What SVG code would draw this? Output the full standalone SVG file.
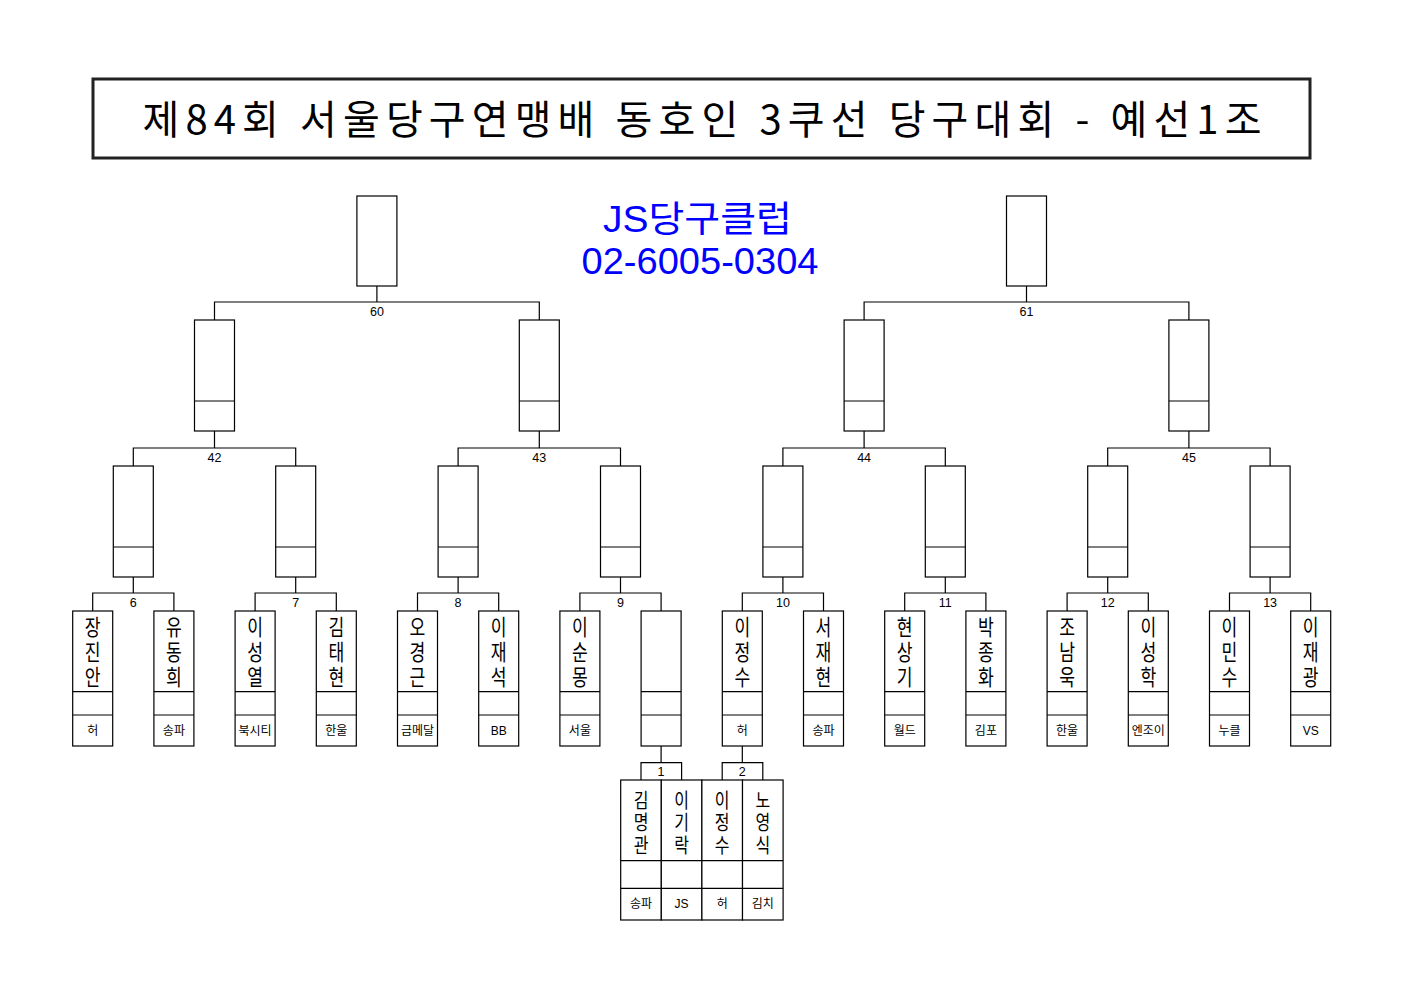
<svg xmlns="http://www.w3.org/2000/svg" width="1403" height="992" viewBox="0 0 1403 992">
<style>
.box{fill:#fff;stroke:#000;stroke-width:1.2}
.dv{fill:none;stroke:#000;stroke-width:1.2}
.ln{fill:none;stroke:#000;stroke-width:1.2}
.num{font-family:"Liberation Sans",sans-serif;font-size:12.5px;text-anchor:middle;fill:#000}
.nm{font-family:"Liberation Sans","Noto Sans CJK KR",sans-serif;font-size:22px;text-anchor:middle;fill:#000}
.nmb{font-family:"Liberation Sans","Noto Sans CJK KR",sans-serif;font-size:20px;text-anchor:middle;fill:#000}
.af{font-family:"Liberation Sans","Noto Sans CJK KR",sans-serif;font-size:12px;text-anchor:middle;fill:#000}
.title{font-family:"Noto Sans CJK KR",sans-serif;font-size:40px;text-anchor:middle;fill:#000}
.blue{font-family:"Liberation Sans","Noto Sans CJK KR",sans-serif;text-anchor:middle;fill:#0000ff}
</style>
<rect width="1403" height="992" fill="#fff"/>
<g id="title">
<rect x="93" y="79" width="1217" height="79" fill="#fff" stroke="#222" stroke-width="3"/>
<text class="title" x="702" y="134" textLength="1119" lengthAdjust="spacing">제84회 서울당구연맹배 동호인 3쿠선 당구대회 - 예선1조</text>
</g>
<g id="club">
<text class="blue" x="697.5" y="231.5" font-size="36" textLength="189" lengthAdjust="spacingAndGlyphs">JS당구클럽</text>
<text class="blue" x="700" y="273.5" font-size="37.5" textLength="237" lengthAdjust="spacingAndGlyphs">02-6005-0304</text>
</g>
<g id="connectors">
<path class="ln" d="M133.3 577V593M92.7 611V593H173.9V611"/>
<path class="ln" d="M295.7 577V593M255.1 611V593H336.3V611"/>
<path class="ln" d="M458.1 577V593M417.5 611V593H498.7V611"/>
<path class="ln" d="M620.5 577V593M579.9 611V593H661.1V611"/>
<path class="ln" d="M782.9 577V593M742.3 611V593H823.5V611"/>
<path class="ln" d="M945.3 577V593M904.7 611V593H985.9V611"/>
<path class="ln" d="M1107.7 577V593M1067.1 611V593H1148.3V611"/>
<path class="ln" d="M1270.1 577V593M1229.5 611V593H1310.7V611"/>
<path class="ln" d="M214.5 431V448M133.3 466V448H295.7V466"/>
<path class="ln" d="M539.3 431V448M458.1 466V448H620.5V466"/>
<path class="ln" d="M864.1 431V448M782.9 466V448H945.3V466"/>
<path class="ln" d="M1188.9 431V448M1107.7 466V448H1270.1V466"/>
<path class="ln" d="M376.9 286V302M214.5 320V302H539.3V320"/>
<path class="ln" d="M1026.5 286V302M864.1 320V302H1188.9V320"/>
<path class="ln" d="M661.1 746V762.7M641 780V762.7H681.6V780"/>
<path class="ln" d="M742.3 746V762.7M722.2 780V762.7H762.8V780"/>
</g>
<g id="labels">
<text class="num" x="376.9" y="315.5">60</text>
<text class="num" x="1026.5" y="315.5">61</text>
<text class="num" x="214.5" y="461.5">42</text>
<text class="num" x="539.3" y="461.5">43</text>
<text class="num" x="864.1" y="461.5">44</text>
<text class="num" x="1188.9" y="461.5">45</text>
<text class="num" x="133.3" y="606.5">6</text>
<text class="num" x="295.7" y="606.5">7</text>
<text class="num" x="458.1" y="606.5">8</text>
<text class="num" x="620.5" y="606.5">9</text>
<text class="num" x="782.9" y="606.5">10</text>
<text class="num" x="945.3" y="606.5">11</text>
<text class="num" x="1107.7" y="606.5">12</text>
<text class="num" x="1270.1" y="606.5">13</text>
<text class="num" x="661.1" y="776">1</text>
<text class="num" x="742.3" y="776">2</text>
</g>
<g id="m60"><rect class="box" x="356.9" y="196" width="40" height="90"/></g>
<g id="m61"><rect class="box" x="1006.5" y="196" width="40" height="90"/></g>
<g id="m42"><rect class="box" x="194.5" y="320" width="40" height="111"/><path class="dv" d="M194.5 401h40"/></g>
<g id="m43"><rect class="box" x="519.3" y="320" width="40" height="111"/><path class="dv" d="M519.3 401h40"/></g>
<g id="m44"><rect class="box" x="844.1" y="320" width="40" height="111"/><path class="dv" d="M844.1 401h40"/></g>
<g id="m45"><rect class="box" x="1168.9" y="320" width="40" height="111"/><path class="dv" d="M1168.9 401h40"/></g>
<g id="m6"><rect class="box" x="113.3" y="466" width="40" height="111"/><path class="dv" d="M113.3 547h40"/></g>
<g id="m7"><rect class="box" x="275.7" y="466" width="40" height="111"/><path class="dv" d="M275.7 547h40"/></g>
<g id="m8"><rect class="box" x="438.1" y="466" width="40" height="111"/><path class="dv" d="M438.1 547h40"/></g>
<g id="m9"><rect class="box" x="600.5" y="466" width="40" height="111"/><path class="dv" d="M600.5 547h40"/></g>
<g id="m10"><rect class="box" x="762.9" y="466" width="40" height="111"/><path class="dv" d="M762.9 547h40"/></g>
<g id="m11"><rect class="box" x="925.3" y="466" width="40" height="111"/><path class="dv" d="M925.3 547h40"/></g>
<g id="m12"><rect class="box" x="1087.7" y="466" width="40" height="111"/><path class="dv" d="M1087.7 547h40"/></g>
<g id="m13"><rect class="box" x="1250.1" y="466" width="40" height="111"/><path class="dv" d="M1250.1 547h40"/></g>
<g id="p0"><rect class="box" x="72.7" y="611" width="40" height="135"/><path class="dv" d="M72.7 691.7h40M72.7 715h40"/><text class="nm" transform="translate(92.7 0) scale(0.78 1)" x="0" y="635.5">장<tspan x="0" dy="25">진</tspan><tspan x="0" dy="25">안</tspan></text><text class="af" x="92.7" y="734.5">허</text></g>
<g id="p1"><rect class="box" x="153.9" y="611" width="40" height="135"/><path class="dv" d="M153.9 691.7h40M153.9 715h40"/><text class="nm" transform="translate(173.9 0) scale(0.78 1)" x="0" y="635.5">유<tspan x="0" dy="25">동</tspan><tspan x="0" dy="25">희</tspan></text><text class="af" x="173.9" y="734.5">송파</text></g>
<g id="p2"><rect class="box" x="235.1" y="611" width="40" height="135"/><path class="dv" d="M235.1 691.7h40M235.1 715h40"/><text class="nm" transform="translate(255.1 0) scale(0.78 1)" x="0" y="635.5">이<tspan x="0" dy="25">성</tspan><tspan x="0" dy="25">열</tspan></text><text class="af" x="255.1" y="734.5">북시티</text></g>
<g id="p3"><rect class="box" x="316.3" y="611" width="40" height="135"/><path class="dv" d="M316.3 691.7h40M316.3 715h40"/><text class="nm" transform="translate(336.3 0) scale(0.78 1)" x="0" y="635.5">김<tspan x="0" dy="25">태</tspan><tspan x="0" dy="25">현</tspan></text><text class="af" x="336.3" y="734.5">한울</text></g>
<g id="p4"><rect class="box" x="397.5" y="611" width="40" height="135"/><path class="dv" d="M397.5 691.7h40M397.5 715h40"/><text class="nm" transform="translate(417.5 0) scale(0.78 1)" x="0" y="635.5">오<tspan x="0" dy="25">경</tspan><tspan x="0" dy="25">근</tspan></text><text class="af" x="417.5" y="734.5">금메달</text></g>
<g id="p5"><rect class="box" x="478.7" y="611" width="40" height="135"/><path class="dv" d="M478.7 691.7h40M478.7 715h40"/><text class="nm" transform="translate(498.7 0) scale(0.78 1)" x="0" y="635.5">이<tspan x="0" dy="25">재</tspan><tspan x="0" dy="25">석</tspan></text><text class="af" x="498.7" y="734.5">BB</text></g>
<g id="p6"><rect class="box" x="559.9" y="611" width="40" height="135"/><path class="dv" d="M559.9 691.7h40M559.9 715h40"/><text class="nm" transform="translate(579.9 0) scale(0.78 1)" x="0" y="635.5">이<tspan x="0" dy="25">순</tspan><tspan x="0" dy="25">몽</tspan></text><text class="af" x="579.9" y="734.5">서울</text></g>
<g id="p7"><rect class="box" x="641.1" y="611" width="40" height="135"/><path class="dv" d="M641.1 691.7h40M641.1 715h40"/></g>
<g id="p8"><rect class="box" x="722.3" y="611" width="40" height="135"/><path class="dv" d="M722.3 691.7h40M722.3 715h40"/><text class="nm" transform="translate(742.3 0) scale(0.78 1)" x="0" y="635.5">이<tspan x="0" dy="25">정</tspan><tspan x="0" dy="25">수</tspan></text><text class="af" x="742.3" y="734.5">허</text></g>
<g id="p9"><rect class="box" x="803.5" y="611" width="40" height="135"/><path class="dv" d="M803.5 691.7h40M803.5 715h40"/><text class="nm" transform="translate(823.5 0) scale(0.78 1)" x="0" y="635.5">서<tspan x="0" dy="25">재</tspan><tspan x="0" dy="25">현</tspan></text><text class="af" x="823.5" y="734.5">송파</text></g>
<g id="p10"><rect class="box" x="884.7" y="611" width="40" height="135"/><path class="dv" d="M884.7 691.7h40M884.7 715h40"/><text class="nm" transform="translate(904.7 0) scale(0.78 1)" x="0" y="635.5">현<tspan x="0" dy="25">상</tspan><tspan x="0" dy="25">기</tspan></text><text class="af" x="904.7" y="734.5">월드</text></g>
<g id="p11"><rect class="box" x="965.9" y="611" width="40" height="135"/><path class="dv" d="M965.9 691.7h40M965.9 715h40"/><text class="nm" transform="translate(985.9 0) scale(0.78 1)" x="0" y="635.5">박<tspan x="0" dy="25">종</tspan><tspan x="0" dy="25">화</tspan></text><text class="af" x="985.9" y="734.5">김포</text></g>
<g id="p12"><rect class="box" x="1047.1" y="611" width="40" height="135"/><path class="dv" d="M1047.1 691.7h40M1047.1 715h40"/><text class="nm" transform="translate(1067.1 0) scale(0.78 1)" x="0" y="635.5">조<tspan x="0" dy="25">남</tspan><tspan x="0" dy="25">욱</tspan></text><text class="af" x="1067.1" y="734.5">한울</text></g>
<g id="p13"><rect class="box" x="1128.3" y="611" width="40" height="135"/><path class="dv" d="M1128.3 691.7h40M1128.3 715h40"/><text class="nm" transform="translate(1148.3 0) scale(0.78 1)" x="0" y="635.5">이<tspan x="0" dy="25">성</tspan><tspan x="0" dy="25">학</tspan></text><text class="af" x="1148.3" y="734.5">엔조이</text></g>
<g id="p14"><rect class="box" x="1209.5" y="611" width="40" height="135"/><path class="dv" d="M1209.5 691.7h40M1209.5 715h40"/><text class="nm" transform="translate(1229.5 0) scale(0.78 1)" x="0" y="635.5">이<tspan x="0" dy="25">민</tspan><tspan x="0" dy="25">수</tspan></text><text class="af" x="1229.5" y="734.5">누클</text></g>
<g id="p15"><rect class="box" x="1290.7" y="611" width="40" height="135"/><path class="dv" d="M1290.7 691.7h40M1290.7 715h40"/><text class="nm" transform="translate(1310.7 0) scale(0.78 1)" x="0" y="635.5">이<tspan x="0" dy="25">재</tspan><tspan x="0" dy="25">광</tspan></text><text class="af" x="1310.7" y="734.5">VS</text></g>
<g id="b0"><rect class="box" x="620.7" y="780" width="40.6" height="140"/><path class="dv" d="M620.7 860.7h40.6M620.7 888.3h40.6"/><text class="nmb" transform="translate(641 0) scale(0.8 1)" x="0" y="808">김<tspan x="0" dy="22.5">명</tspan><tspan x="0" dy="22.5">관</tspan></text><text class="af" x="641" y="908">송파</text></g>
<g id="b1"><rect class="box" x="661.3" y="780" width="40.6" height="140"/><path class="dv" d="M661.3 860.7h40.6M661.3 888.3h40.6"/><text class="nmb" transform="translate(681.6 0) scale(0.8 1)" x="0" y="808">이<tspan x="0" dy="22.5">기</tspan><tspan x="0" dy="22.5">락</tspan></text><text class="af" x="681.6" y="908">JS</text></g>
<g id="b2"><rect class="box" x="701.9" y="780" width="40.6" height="140"/><path class="dv" d="M701.9 860.7h40.6M701.9 888.3h40.6"/><text class="nmb" transform="translate(722.2 0) scale(0.8 1)" x="0" y="808">이<tspan x="0" dy="22.5">정</tspan><tspan x="0" dy="22.5">수</tspan></text><text class="af" x="722.2" y="908">허</text></g>
<g id="b3"><rect class="box" x="742.5" y="780" width="40.6" height="140"/><path class="dv" d="M742.5 860.7h40.6M742.5 888.3h40.6"/><text class="nmb" transform="translate(762.8 0) scale(0.8 1)" x="0" y="808">노<tspan x="0" dy="22.5">영</tspan><tspan x="0" dy="22.5">식</tspan></text><text class="af" x="762.8" y="908">김치</text></g>
</svg>
